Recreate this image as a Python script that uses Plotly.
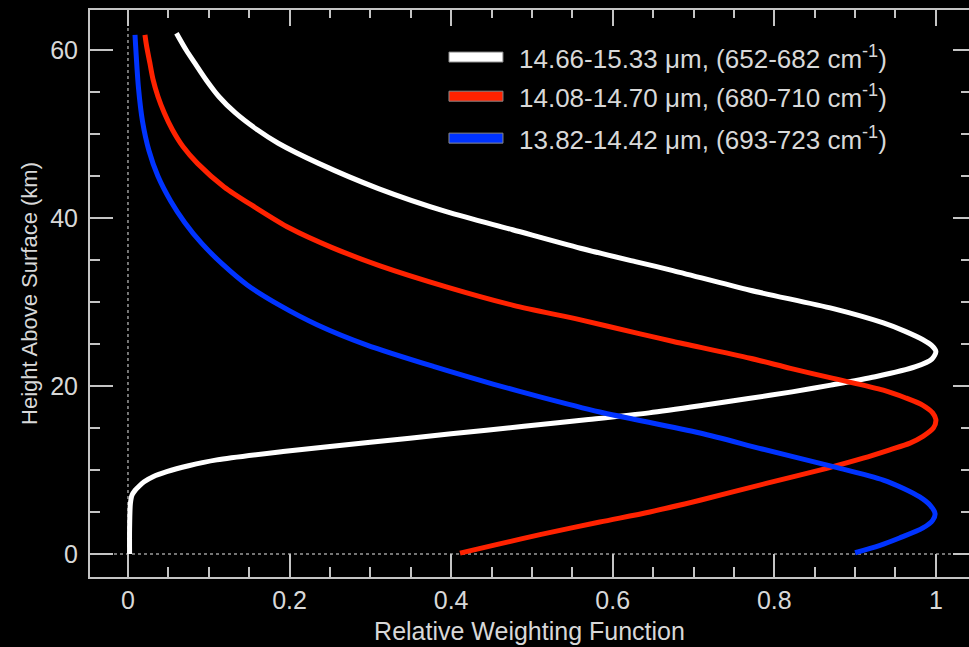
import plotly.graph_objects as go

# ---- data (height km, relative weighting) ----
white_h = [0.0, 3.0, 6.0, 7.0, 7.6, 8.1, 8.6, 9.2, 9.8, 10.5, 11.2, 12.2, 13.3, 14.3, 15.2, 16.0,
           16.8, 17.7, 18.5, 19.3, 20.1, 21.1, 22.3, 23.2, 24.1, 24.8, 25.5, 26.5,
           27.5, 29.2, 31.4, 33.8, 34.8, 36.4, 38.6, 40.75, 43.5, 46.5, 48.9, 50.5, 52.5,
           54.4, 56.4, 58.4, 60.0, 62.0]
white_w = [0.002, 0.002, 0.003, 0.005, 0.009, 0.014, 0.020, 0.031, 0.048, 0.075, 0.110, 0.192,
           0.300, 0.400, 0.490, 0.570, 0.645, 0.712, 0.768, 0.822, 0.870, 0.925, 0.975, 0.995,
           1.000, 0.995, 0.984, 0.962, 0.935, 0.873, 0.770, 0.672, 0.628, 0.560, 0.476, 0.394,
           0.310, 0.236, 0.186, 0.160, 0.133, 0.113, 0.097, 0.083, 0.072, 0.060]

red_h = [0.1, 1.2, 2.3, 3.8, 5.0, 6.4, 8.4, 10.2, 11.4, 12.4, 13.2, 14.0, 15.0, 16.0, 16.8, 17.7,
         18.6, 19.5, 20.9, 22.1, 23.3, 25.3, 26.2, 27.9, 29.6, 31.8, 34.3, 36.5, 38.8, 41.3,
         43.7, 46.5, 48.5, 50.5, 52.5, 54.5, 56.5, 58.5, 60.5, 61.8]
red_w = [0.411, 0.460, 0.510, 0.584, 0.646, 0.708, 0.790, 0.865, 0.910, 0.943, 0.968, 0.984,
         0.997, 1.000, 0.996, 0.984, 0.962, 0.935, 0.873, 0.820, 0.770, 0.675, 0.634, 0.559,
         0.477, 0.394, 0.312, 0.252, 0.200, 0.157, 0.119, 0.086, 0.068, 0.055, 0.045, 0.037,
         0.031, 0.027, 0.023, 0.021]

blue_h = [0.15, 1.0, 1.9, 3.1, 4.0, 4.8, 5.8, 6.8, 7.8, 8.8, 10.4, 12.5, 14.4, 16.9, 18.7, 20.2,
          22.3, 24.9, 27.3, 29.6, 32.0, 34.5, 37.0, 39.5, 42.0, 45.0, 48.0, 51.5, 55.5, 61.8]
blue_w = [0.900, 0.930, 0.955, 0.984, 0.996, 0.999, 0.993, 0.980, 0.960, 0.935, 0.873, 0.785,
          0.708, 0.584, 0.510, 0.453, 0.379, 0.295, 0.234, 0.188, 0.148, 0.117, 0.091, 0.070,
          0.053, 0.037, 0.026, 0.018, 0.013, 0.0087]

series_names = ["14.66-15.33 μm, (652-682 cm<sup>-1</sup>)",
                "14.08-14.70 μm, (680-710 cm<sup>-1</sup>)",
                "13.82-14.42 μm, (693-723 cm<sup>-1</sup>)"]
series_colors = ["#ffffff", "#ff2200", "#0033ff"]

x_range = [-0.047, 1.041]
y_range = [-2.74, 64.76]

FONT = "Liberation Sans, Arial, Helvetica, sans-serif"
TXT = "#d8d8d8"
AX = "#c4c4c4"

fig = go.Figure()
for h, w, c in zip([white_h, red_h, blue_h], [white_w, red_w, blue_w], series_colors):
    fig.add_trace(go.Scatter(x=w, y=h, mode="lines", showlegend=False,
                             line=dict(color=c, width=5, shape="spline", smoothing=0.8)))

# invisible trace so the mirrored top/right axes render
fig.add_trace(go.Scatter(x=[None], y=[None], xaxis="x2", yaxis="y2", showlegend=False,
                         hoverinfo="skip"))

common = dict(showgrid=False, zeroline=False, showline=True, linecolor=AX, linewidth=2,
              ticks="inside", tickcolor=AX, tickwidth=2)

fig.update_layout(
    width=969, height=647,
    paper_bgcolor="black", plot_bgcolor="black",
    margin=dict(l=90, r=0, t=10, b=70),
    font=dict(family=FONT, color=TXT),
    xaxis=dict(range=x_range, dtick=0.2, tick0=0, ticklen=23,
               minor=dict(ticks="inside", ticklen=10, dtick=0.05, tick0=0, tickcolor=AX, tickwidth=2),
               tickfont=dict(size=25, color=TXT, family=FONT),
               title=dict(text="Relative Weighting Function", font=dict(size=25, color=TXT), standoff=9),
               **common),
    yaxis=dict(range=y_range, dtick=20, tick0=0, ticklen=23, ticklabelstandoff=5,
               minor=dict(ticks="inside", ticklen=10, dtick=5, tick0=0, tickcolor=AX, tickwidth=2),
               tickfont=dict(size=25, color=TXT, family=FONT),
               title=dict(text="Height Above Surface (km)", font=dict(size=22, color=TXT), standoff=6),
               **common),
    xaxis2=dict(range=x_range, overlaying="x", side="top", anchor="y", dtick=0.2, tick0=0,
                ticklen=16, showticklabels=False,
                minor=dict(ticks="inside", ticklen=8, dtick=0.05, tick0=0, tickcolor=AX, tickwidth=2),
                **common),
    yaxis2=dict(range=y_range, overlaying="y", side="right", anchor="x", dtick=20, tick0=0,
                ticklen=16, showticklabels=False,
                minor=dict(ticks="inside", ticklen=8, dtick=5, tick0=0, tickcolor=AX, tickwidth=2),
                showgrid=False, zeroline=False, showline=False, ticks="inside",
                tickcolor=AX, tickwidth=2),
)

# dotted zero reference lines
fig.add_shape(type="line", xref="x", yref="paper", x0=0, x1=0, y0=0, y1=1,
              line=dict(color="#9a9a9a", width=1.5, dash="dot"), layer="below")
fig.add_shape(type="line", xref="paper", yref="y", x0=0, x1=1, y0=0, y1=0,
              line=dict(color="#9a9a9a", width=1.5, dash="dot"), layer="below")

# manual legend
leg_y = [0.917, 0.848, 0.774]
for name, c, yy in zip(series_names, series_colors, leg_y):
    fig.add_shape(type="rect", xref="paper", yref="paper", x0=0.4084, x1=0.4698,
                  y0=yy - 0.0088, y1=yy + 0.0088, fillcolor=c, line=dict(color="#888888", width=1))
    fig.add_annotation(xref="paper", yref="paper", x=0.4858, y=yy, xanchor="left", yanchor="middle",
                       text=name, showarrow=False, font=dict(size=26, color=TXT, family=FONT))

fig.write_html("out.html", config={"displayModeBar": False},
               post_script="document.body.style.margin='0';document.body.style.background='black';")
